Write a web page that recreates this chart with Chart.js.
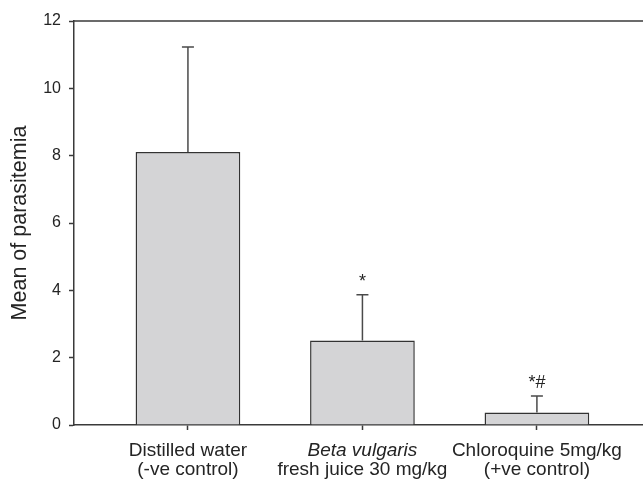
<!DOCTYPE html>
<html>
<head>
<meta charset="utf-8">
<script src="https://cdn.jsdelivr.net/npm/chart.js@4/dist/chart.umd.min.js"></script>
<style>
  html, body { margin: 0; padding: 0; background: #ffffff; }
  #wrap { width: 643px; height: 479px; position: relative; }
</style>
</head>
<body>
<div id="wrap"><canvas id="chart"></canvas></div>
<script>
// Treatment groups (two-line labels) and their measured parasitemia
const groupLabels = [
  ['Distilled water', '(-ve control)'],
  ['Beta vulgaris', 'fresh juice 30 mg/kg'],
  ['Chloroquine 5mg/kg', '(+ve control)']
];
const italicText = ['Beta vulgaris'];
const meanValues = [8.11, 2.51, 0.37];
const sdValues = [3.12, 1.36, 0.49];
const significance = ['', '*', '*#'];
const yTicks = [0, 2, 4, 6, 8, 10, 12];

const FONT = '"Liberation Sans", Arial, Helvetica, sans-serif';
const INK = '#242424';

// Upper error bars, significance marks, the frame's top line and the group labels
const decorations = {
  id: 'decorations',
  afterDatasetsDraw(chart) {
    const ctx = chart.ctx;
    const xs = chart.scales.x, ys = chart.scales.y;
    const area = chart.chartArea;
    ctx.save();

    // top frame line
    ctx.strokeStyle = '#3a3a3a';
    ctx.lineWidth = 1.5;
    ctx.beginPath();
    ctx.moveTo(area.left, area.top);
    ctx.lineTo(area.right, area.top);
    ctx.stroke();

    meanValues.forEach((m, i) => {
      const x = xs.getPixelForValue(i);
      const y0 = ys.getPixelForValue(m);
      const y1 = ys.getPixelForValue(m + sdValues[i]);
      ctx.strokeStyle = '#4a4a4a';
      ctx.lineWidth = 1.5;
      ctx.beginPath();
      ctx.moveTo(x, y0);
      ctx.lineTo(x, y1);
      ctx.moveTo(x - 6, y1);
      ctx.lineTo(x + 6, y1);
      ctx.stroke();

      if (significance[i]) {
        ctx.fillStyle = INK;
        ctx.font = '18px ' + FONT;
        ctx.textAlign = 'center';
        ctx.textBaseline = 'alphabetic';
        ctx.fillText(significance[i], x, y1 - 8);
      }
    });

    // category labels under the axis
    ctx.fillStyle = INK;
    ctx.textAlign = 'center';
    ctx.textBaseline = 'alphabetic';
    groupLabels.forEach((lines, i) => {
      const x = xs.getPixelForValue(i);
      lines.forEach((t, j) => {
        const italic = italicText.includes(t) ? 'italic ' : '';
        ctx.font = italic + '19px ' + FONT;
        ctx.fillText(t, x, area.bottom + 31 + j * 19);
      });
    });
    ctx.restore();
  }
};

new Chart(document.getElementById('chart'), {
  type: 'bar',
  data: {
    datasets: [{
      data: meanValues.map((v, i) => ({ x: i, y: v })),
      backgroundColor: '#d4d4d6',
      borderColor: '#333333',
      borderWidth: { top: 1.5, left: 1.5, right: 1.5, bottom: 0 },
      borderSkipped: 'bottom',
      categoryPercentage: 0.6,
      barPercentage: 1.0
    }]
  },
  options: {
    responsive: true,
    maintainAspectRatio: false,
    animation: false,
    layout: { padding: { top: 21, right: 0, left: 0, bottom: 0 } },
    plugins: { legend: { display: false }, tooltip: { enabled: false } },
    scales: {
      x: {
        type: 'linear',
        offset: false,
        min: -0.653,
        max: 2.608,
        afterBuildTicks(axis) { axis.ticks = groupLabels.map((_, i) => ({ value: i })); },
        afterFit(axis) { axis.height = 54; },
        ticks: { callback: () => '', autoSkip: false },
        grid: { offset: false, drawOnChartArea: false, drawTicks: true, tickLength: 5, tickColor: '#3a3a3a', tickWidth: 1.5 },
        border: { display: true, color: '#3a3a3a', width: 1.5 }
      },
      y: {
        min: 0,
        max: 12,
        afterBuildTicks(axis) { axis.ticks = yTicks.map(v => ({ value: v })); },
        afterFit(axis) { axis.width = 74; },
        ticks: { color: INK, font: { family: FONT, size: 16 }, padding: 8 },
        grid: { drawOnChartArea: false, drawTicks: true, tickLength: 5, tickColor: '#3a3a3a', tickWidth: 1.5 },
        border: { display: true, color: '#3a3a3a', width: 1.5 },
        title: {
          display: true,
          text: 'Mean of parasitemia',
          color: INK,
          font: { family: FONT, size: 21.5 },
          padding: { top: 7, bottom: 0 }
        }
      }
    }
  },
  plugins: [decorations]
});
</script>
</body>
</html>
